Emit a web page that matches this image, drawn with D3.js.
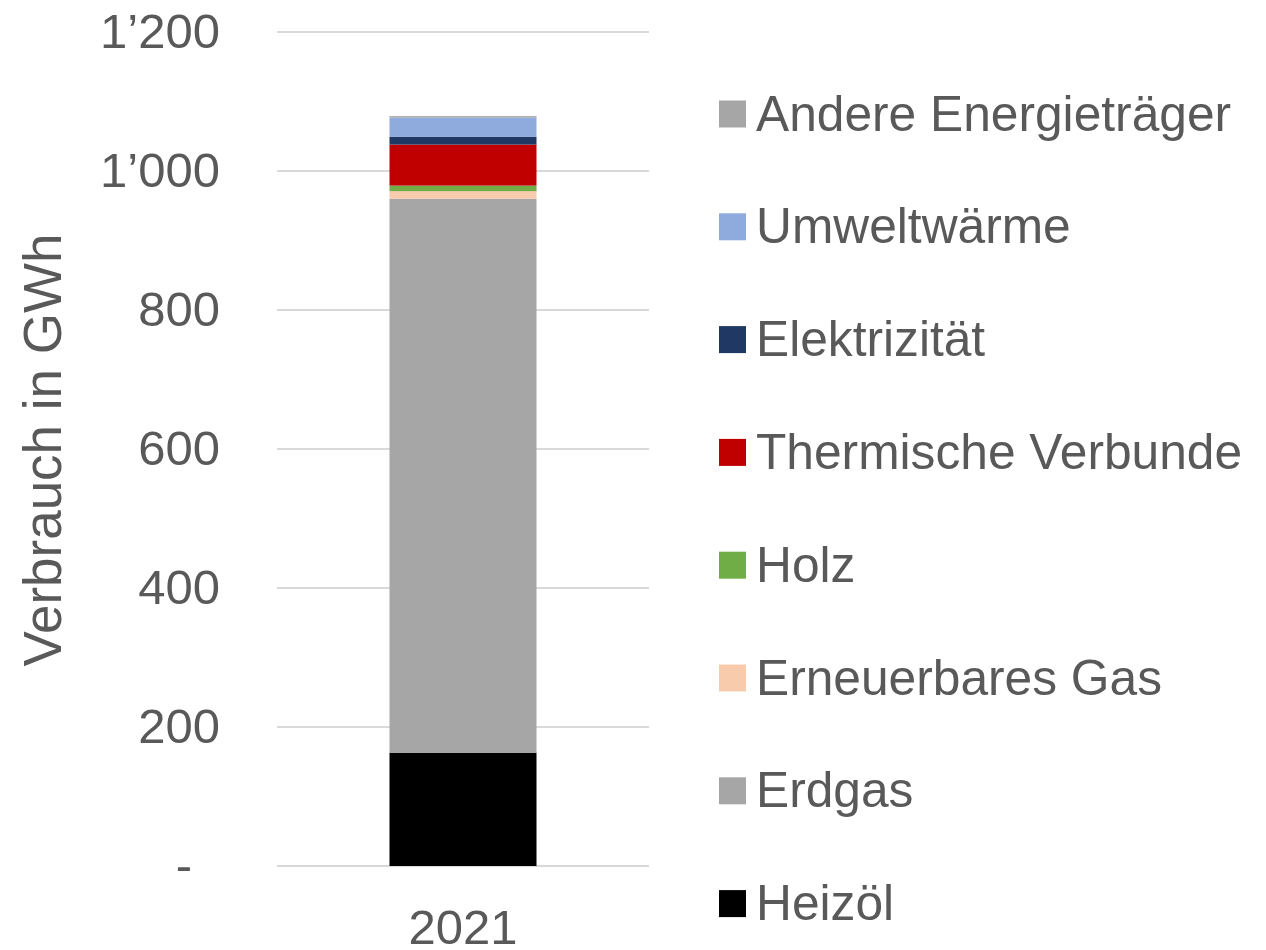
<!DOCTYPE html>
<html>
<head>
<meta charset="utf-8">
<script src="https://cdn.jsdelivr.net/npm/d3@7"></script>
<style>
  html, body { margin: 0; padding: 0; background: #ffffff; }
  svg { display: block; }
  text { font-family: "Liberation Sans", Arial, sans-serif; fill: #595959; }
</style>
</head>
<body>
<svg id="chart" width="1266" height="950"></svg>
<script>
const categories = ["2021"];
const seriesNames = ["Heizöl", "Erdgas", "Erneuerbares Gas", "Holz", "Thermische Verbunde", "Elektrizität", "Umweltwärme", "Andere Energieträger"];
const seriesValues = [163, 797, 11, 8, 59, 11, 28, 2];
const seriesColors = ["#000000", "#a6a6a6", "#f8cbad", "#70ad47", "#c00000", "#203864", "#8faadc", "#a6a6a6"];
const tickValues = [0, 200, 400, 600, 800, 1000, 1200];
const tickLabels = ["-", "200", "400", "600", "800", "1\u2019000", "1\u2019200"];
const yTitle = "Verbrauch in GWh";

const svg = d3.select("#chart");
const plotLeft = 277, plotRight = 649, plotTop = 32, plotBottom = 866;

const y = d3.scaleLinear().domain([0, 1200]).range([plotBottom, plotTop]);
const x = d3.scaleBand().domain(categories).range([plotLeft, plotRight]).padding(0.4335);

// gridlines
svg.append("g").selectAll("line").data(tickValues).join("line")
  .attr("x1", plotLeft).attr("x2", plotRight)
  .attr("y1", d => y(d)).attr("y2", d => y(d))
  .attr("stroke", "#d9d9d9").attr("stroke-width", 2);

// y axis
const yAxis = d3.axisLeft(y).tickValues(tickValues).tickSize(0).tickPadding(57)
  .tickFormat((d, i) => tickLabels[i]);
const gy = svg.append("g").attr("transform", `translate(${plotLeft},0)`).call(yAxis);
gy.select(".domain").remove();
gy.selectAll("text")
  .style("font-family", "'Liberation Sans', Arial, sans-serif")
  .style("font-size", "49px").attr("fill", "#595959")
  .attr("dx", d => d === 0 ? -28 : 0);

// stacked bar
const row = { cat: categories[0] };
seriesNames.forEach((n, i) => row[n] = seriesValues[i]);
const stack = d3.stack().keys(seriesNames)([row]);
svg.append("g").selectAll("rect").data(stack).join("rect")
  .attr("x", x(categories[0]))
  .attr("width", x.bandwidth())
  .attr("y", d => y(d[0][1]))
  .attr("height", d => y(d[0][0]) - y(d[0][1]))
  .attr("fill", (d, i) => seriesColors[i]);

// x axis label
svg.append("text").attr("x", x(categories[0]) + x.bandwidth() / 2).attr("y", 944)
  .attr("text-anchor", "middle").style("font-size", "49px").text(categories[0]);

// y title
svg.append("text").attr("transform", `translate(61,450) rotate(-90)`)
  .attr("text-anchor", "middle").style("font-size", "53px").text(yTitle);

// legend (top to bottom = reverse stacking order)
const legendOrder = seriesNames.map((n, i) => i).reverse();
const lg = svg.append("g").selectAll("g").data(legendOrder).join("g")
  .attr("transform", (d, j) => `translate(719, ${114 + j * 112.8})`);
lg.append("rect").attr("x", 0).attr("y", -13.5).attr("width", 27).attr("height", 27)
  .attr("fill", d => seriesColors[d]);
lg.append("text").attr("x", 37).attr("y", 16.5).style("font-size", "49.7px")
  .text(d => seriesNames[d]);
</script>
</body>
</html>
